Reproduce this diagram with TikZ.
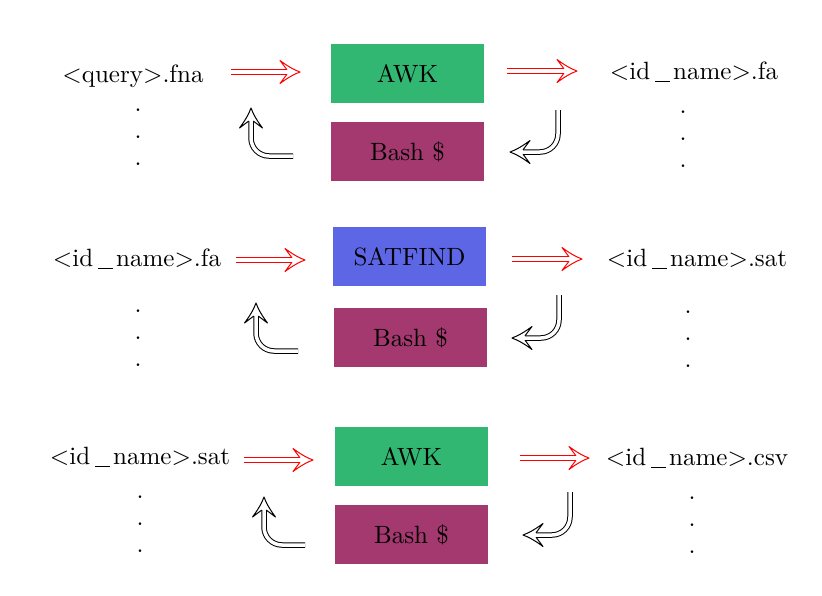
\documentclass[tikz,border=0pt]{standalone}
\usetikzlibrary{arrows.meta}
\definecolor{awkgreen}{RGB}{50,183,115}
\definecolor{bashred}{RGB}{163,57,111}
\definecolor{satblue}{RGB}{93,103,230}
\newcommand{\myus}{\kern2.0pt\rule[-1.0pt]{6pt}{0.4pt}\kern1.2pt}
\pgfdeclarearrow{
  name = OpenImplies,
  setup code = {
    \pgfarrowssettipend{0pt}
    \pgfarrowssetlineend{-5.2pt}
    \pgfarrowssetbackend{-8pt}
    \pgfarrowshullpoint{0pt}{0pt}
    \pgfarrowshullpoint{-8pt}{4.8pt}
    \pgfarrowshullpoint{-8pt}{-4.8pt}
  },
  drawing code = {
    \pgfsetdash{}{0pt}
    \pgfsetlinewidth{0.4pt}
    \pgfsetroundjoin
    \pgfpathmoveto{\pgfpoint{-5.2pt}{0.9pt}}
    \pgfpathlineto{\pgfpoint{-8pt}{4.6pt}}
    \pgfpathcurveto{\pgfpoint{-5.3pt}{2.6pt}}{\pgfpoint{-2.6pt}{0.9pt}}{\pgfpoint{0pt}{0pt}}
    \pgfpathcurveto{\pgfpoint{-2.6pt}{-0.9pt}}{\pgfpoint{-5.3pt}{-2.6pt}}{\pgfpoint{-8pt}{-4.6pt}}
    \pgfpathlineto{\pgfpoint{-5.2pt}{-0.9pt}}
    \pgfusepathqstroke
  }
}
\tikzset{
  toolbox/.style={minimum width=153*0.4pt, minimum height=59*0.4pt, inner sep=0pt, text=black},
  lbl/.style={inner sep=0pt, anchor=center},
  vdotsnode/.style={inner sep=0pt, align=center},
  flowarrow/.style={draw=red, double=white, double distance=1.4pt, line width=0.4pt, -{OpenImplies}},
  looparrow/.style={draw=black, double=white, double distance=1.4pt, line width=0.4pt, -{OpenImplies}, rounded corners=18*0.4pt},
}
\begin{document}
\begin{tikzpicture}[x=0.4pt,y=-0.4pt]
\useasboundingbox (0,0) rectangle (822,595);
% row 1
\node[toolbox, fill=awkgreen] (awk1) at (407.5,73.5) {AWK};
\node[toolbox, fill=bashred] (bash1) at (407.5,151.5) {Bash \$};
\node[lbl] (in1) at (133,76) {$<$query$>$.fna};
\node[lbl] (out1) at (694,72) {$<$id\myus name$>$.fa};
\node[vdotsnode] (d1l) at (138,137) {.\\[-1.2pt].\\[-1.2pt].};
\node[vdotsnode] (d1r) at (683,139) {.\\[-1.2pt].\\[-1.2pt].};
\coordinate (a1s) at (231,72); \coordinate (a1e) at (300,72);
\coordinate (b1s) at (507,71); \coordinate (b1e) at (577,71);
\coordinate (c1s) at (558,110); \coordinate (c1e) at (510,152);
\coordinate (e1s) at (293,156); \coordinate (e1e) at (251,108);
\draw[flowarrow] (a1s) -- (a1e);
\draw[flowarrow] (b1s) -- (b1e);
\draw[looparrow] (c1s) |- (c1e);
\draw[looparrow] (e1s) -| (e1e);
% row 2
\node[toolbox, fill=satblue] (sat2) at (409.5,256.5) {SATFIND};
\node[toolbox, fill=bashred] (bash2) at (410.5,337.5) {Bash \$};
\node[lbl] (in2) at (137,259) {$<$id\myus name$>$.fa};
\node[lbl] (out2) at (697,259) {$<$id\myus name$>$.sat};
\node[vdotsnode] (d2l) at (138,338) {.\\[-1.2pt].\\[-1.2pt].};
\node[vdotsnode] (d2r) at (688,339) {.\\[-1.2pt].\\[-1.2pt].};
\coordinate (a2s) at (236,260); \coordinate (a2e) at (305,260);
\coordinate (b2s) at (512,259); \coordinate (b2e) at (582,259);
\coordinate (c2s) at (559,295); \coordinate (c2e) at (512,338);
\coordinate (e2s) at (298,351); \coordinate (e2e) at (256,303);
\draw[flowarrow] (a2s) -- (a2e);
\draw[flowarrow] (b2s) -- (b2e);
\draw[looparrow] (c2s) |- (c2e);
\draw[looparrow] (e2s) -| (e2e);
% row 3
\node[toolbox, fill=awkgreen] (awk3) at (411.5,456.5) {AWK};
\node[toolbox, fill=bashred] (bash3) at (411.5,534.5) {Bash \$};
\node[lbl] (in3) at (140,457) {$<$id\myus name$>$.sat};
\node[lbl] (out3) at (697,458) {$<$id\myus name$>$.csv};
\node[vdotsnode] (d3l) at (140,524) {.\\[-1.2pt].\\[-1.2pt].};
\node[vdotsnode] (d3r) at (692,525) {.\\[-1.2pt].\\[-1.2pt].};
\coordinate (a3s) at (244,460); \coordinate (a3e) at (313,460);
\coordinate (b3s) at (520,458); \coordinate (b3e) at (589,458);
\coordinate (c3s) at (570,492); \coordinate (c3e) at (523,535);
\coordinate (e3s) at (305,545); \coordinate (e3e) at (264,497);
\draw[flowarrow] (a3s) -- (a3e);
\draw[flowarrow] (b3s) -- (b3e);
\draw[looparrow] (c3s) |- (c3e);
\draw[looparrow] (e3s) -| (e3e);
\end{tikzpicture}
\end{document}
